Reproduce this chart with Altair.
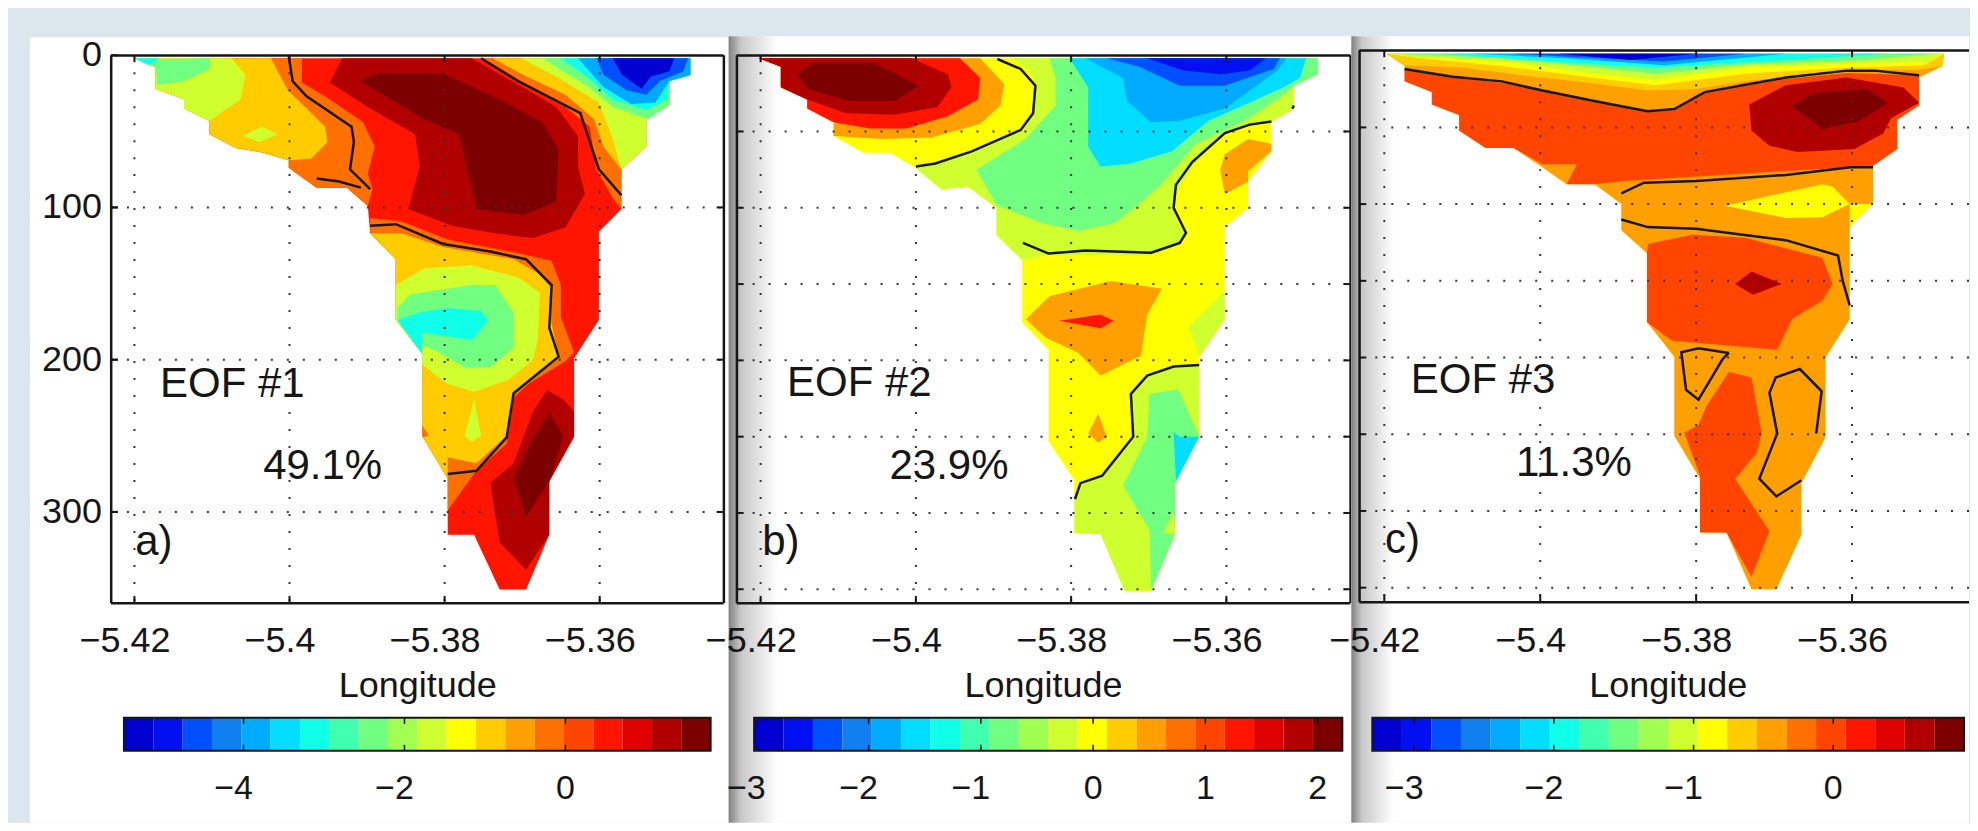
import altair as alt
import pandas as pd

# Discrete jet palette of the three colour bars (20 steps)
JET = ["#0000D0","#0010F0","#0050FF","#1080F0","#00AAFF","#00DDFF","#10FFE8","#40FFB0","#70FF80","#A0FF50",
       "#D0FF30","#FFFF00","#FFCC00","#FF9F00","#FF7000","#FF4500","#FF1500","#E00000","#B00000","#7D0000"]
FONT = "Liberation Sans"
X_TICKS = [-5.42, -5.40, -5.38, -5.36]
X_LABELS = ["\u22125.42", "\u22125.4", "\u22125.38", "\u22125.36"]
Y_LABELS = [0, 100, 200, 300]
Y_DOTS_A = [100, 200, 300]
Y_DOTS_BC = [50, 100, 150, 200, 250, 300, 350]

CB_A = [-5.486,-5.121,-4.757,-4.392,-4.028,-3.663,-3.299,-2.934,-2.570,-2.205,-1.841,-1.476,-1.111,-0.747,-0.382,-0.018,0.347,0.711,1.076,1.440,1.805]
CB_B = [-3.02,-2.758,-2.496,-2.234,-1.972,-1.71,-1.448,-1.186,-0.924,-0.662,-0.40,-0.138,0.124,0.386,0.648,0.91,1.172,1.434,1.696,1.958,2.22]
CB_C = [-3.30,-3.088,-2.876,-2.665,-2.453,-2.241,-2.029,-1.817,-1.606,-1.394,-1.182,-0.97,-0.759,-0.547,-0.335,-0.123,0.089,0.3,0.512,0.724,0.936]
CB_TICKS_A = [-4, -2, 0]
CB_TICKS_B = [-3, -2, -1, 0, 1, 2]
CB_TICKS_C = [-3, -2, -1, 0]

# ---------- panel a ----------
A_FULL = [(-5.42,2),(-5.4173,8),(-5.4173,22),(-5.4136,29),(-5.4136,35),(-5.4103,43),(-5.4103,52),(-5.4069,61),(-5.4033,64),(-5.4001,69),(-5.4001,74),(-5.3965,87),(-5.3926,87),(-5.3899,99),(-5.3896,117),(-5.3863,134),(-5.3863,174),(-5.3829,196),(-5.3829,250),(-5.3796,278),(-5.3796,315),(-5.3762,315),(-5.3729,351),(-5.3695,351),(-5.3665,315),(-5.3665,280),(-5.3633,251),(-5.3633,199),(-5.3601,174),(-5.3601,116),(-5.3572,101),(-5.3572,75),(-5.354,60),(-5.354,42),(-5.351,32.5),(-5.351,17),(-5.3483,13),(-5.3483,2)]
A_BACK = [(-5.3926,87),(-5.3965,87),(-5.4001,74),(-5.4001,69),(-5.4033,64),(-5.4069,61),(-5.4103,52),(-5.4103,43),(-5.4136,35),(-5.4136,29),(-5.4173,22),(-5.4173,8)]
A_RIGHT = [(-5.3483,2),(-5.3483,13),(-5.351,17),(-5.351,32.5),(-5.354,42),(-5.354,60),(-5.3572,75)]
A_O1 = [(-5.42,2),(-5.3984,2),(-5.3984,18),(-5.3948,29),(-5.3905,44),(-5.389,60),(-5.3899,78),(-5.3893,88),(-5.3899,99)] + A_BACK
A_G1 = [(-5.42,2),(-5.4024,2),(-5.4002,23),(-5.3954,47),(-5.3951,57),(-5.3972,68),(-5.4001,69)] + A_BACK[4:]
A_YG1 = [(-5.42,2),(-5.4075,2),(-5.4057,13),(-5.4063,29),(-5.4103,43)] + A_BACK[8:]
A_BLOB = [(-5.406,53),(-5.4036,47),(-5.4015,52),(-5.4039,57)]
A_GR1 = [(-5.4191,3),(-5.4103,2),(-5.4103,9),(-5.4136,17),(-5.417,19.5),(-5.4173,8)]
A_CY1 = [(-5.42,2),(-5.4167,2),(-5.4182,6.5)]
A_D1 = [(-5.3932,2),(-5.3765,2),(-5.3705,19.5),(-5.3656,34),(-5.3628,53),(-5.3628,73),(-5.3619,91),(-5.3644,113),(-5.3686,120),(-5.3735,117),(-5.379,112),(-5.3847,101),(-5.3832,73),(-5.3838,52),(-5.3899,34),(-5.3948,18)]
A_DD1 = [(-5.3908,17),(-5.3887,12),(-5.3802,12),(-5.3729,29),(-5.3674,44),(-5.3653,62),(-5.3656,96),(-5.3698,105),(-5.3759,101),(-5.3781,52),(-5.3826,42)]
A_O2 = [(-5.3753,2)] + A_RIGHT + [(-5.3572,101),(-5.3583,94),(-5.3604,75),(-5.3613,47),(-5.3644,34),(-5.3705,18)]
A_G2 = [(-5.3738,2)] + A_RIGHT + [(-5.3595,60),(-5.3607,42),(-5.3644,26),(-5.3698,13)]
A_YG2 = [(-5.3701,2)] + A_RIGHT + [(-5.3583,55),(-5.3601,31),(-5.3656,14)]
A_GR2 = [(-5.3674,2),(-5.3483,2),(-5.3483,13),(-5.351,17),(-5.351,32.5),(-5.3537,42),(-5.3583,34),(-5.3613,21)]
A_CY2 = [(-5.365,2),(-5.3483,2),(-5.3483,13),(-5.351,17),(-5.3513,29),(-5.354,36),(-5.3583,29),(-5.3619,13)]
A_LB2 = [(-5.3628,2),(-5.3483,2),(-5.3483,13),(-5.351,17),(-5.3528,31),(-5.3559,32),(-5.3595,21)]
A_BL2 = [(-5.3604,2),(-5.3486,2),(-5.3492,10.5),(-5.3522,17),(-5.354,26),(-5.3565,23),(-5.3595,13)]
A_DB2 = [(-5.3583,2),(-5.3504,2),(-5.351,10.5),(-5.3534,14),(-5.3546,22),(-5.3571,13)]
A_O3 = [(-5.3896,107),(-5.3856,109),(-5.3796,121),(-5.3705,130),(-5.3662,135),(-5.365,151),(-5.365,172),(-5.3633,195),(-5.3644,201),(-5.3692,216),(-5.3711,225),(-5.372,255),(-5.3759,273),(-5.3796,299),(-5.3796,278),(-5.3829,250),(-5.3829,196),(-5.3863,174),(-5.3863,134),(-5.3896,117)]
A_G3 = [(-5.3896,117),(-5.3856,117),(-5.3802,126),(-5.3711,134),(-5.368,143),(-5.3662,153),(-5.3665,169),(-5.3653,198),(-5.3711,221),(-5.372,250),(-5.3759,268),(-5.3796,264),(-5.3796,278),(-5.3829,250),(-5.3829,196),(-5.3863,174),(-5.3863,134)]
A_YG3 = [(-5.3863,151),(-5.3826,140),(-5.3765,138),(-5.3705,146),(-5.3677,156),(-5.368,187),(-5.3686,200),(-5.3717,213),(-5.3762,221),(-5.3796,216),(-5.3829,203),(-5.3829,196),(-5.3863,174)]
A_GR3 = [(-5.3861,166),(-5.3844,157),(-5.3765,151),(-5.3735,151),(-5.3711,169),(-5.3711,192),(-5.3741,205),(-5.3774,205),(-5.3808,195),(-5.3829,190),(-5.3829,196),(-5.3861,174)]
A_CY3 = [(-5.3861,174),(-5.3832,169),(-5.3796,166),(-5.3753,168),(-5.3744,174),(-5.3765,187),(-5.3829,182),(-5.3829,196)]
A_YG4 = [(-5.3762,226),(-5.3753,250),(-5.3765,254),(-5.3774,250)]
A_O4 = [(-5.3829,243),(-5.382,250),(-5.3829,251)]
A_D3 = [(-5.3668,220),(-5.3647,226),(-5.3633,234),(-5.3633,250),(-5.3665,280),(-5.3665,315),(-5.3695,338),(-5.3729,320),(-5.3741,281),(-5.3711,268),(-5.3686,234)]
A_DD3 = [(-5.3665,235),(-5.3647,250),(-5.3665,280),(-5.3695,303),(-5.3711,278),(-5.3686,252)]
A_POLYS = [(A_FULL,16),(A_O1,14),(A_G1,12),(A_YG1,10),(A_BLOB,10),(A_GR1,8),(A_CY1,6),(A_D1,18),(A_DD1,19),
           (A_O2,14),(A_G2,12),(A_YG2,10),(A_GR2,8),(A_CY2,6),(A_LB2,4),(A_BL2,2),(A_DB2,0),
           (A_O3,14),(A_G3,12),(A_YG3,10),(A_GR3,8),(A_CY3,6),(A_YG4,10),(A_O4,14),(A_D3,18),(A_DD3,19)]
A_L1 = [(-5.4001,1),(-5.3996,17),(-5.3978,27),(-5.392,47),(-5.3917,57),(-5.3922,75),(-5.3896,88)]
A_L2 = [(-5.3965,81),(-5.3936,83),(-5.3908,87)]
A_L3 = [(-5.3896,112),(-5.3863,111),(-5.3802,124),(-5.3741,129),(-5.3695,134),(-5.3662,151),(-5.3665,179),(-5.3653,198),(-5.3711,222),(-5.372,251),(-5.3759,273),(-5.3796,275)]
A_L4 = [(-5.3753,2),(-5.3705,17),(-5.3625,38),(-5.3601,75),(-5.3572,92)]
A_LINES = [A_L1, A_L2, A_L3, A_L4]
A_TEXT = [("EOF #1",-5.4167,216),("49.1%",-5.4034,270),("a)",-5.4199,320)]

# ---------- panel b ----------
B_FULL = [(-5.4203,2),(-5.4174,7.5),(-5.4174,21),(-5.414,29),(-5.414,35),(-5.4106,44),(-5.4106,53),(-5.4067,64),(-5.4033,64),(-5.4,74),(-5.3967,88),(-5.3933,86),(-5.3896,100),(-5.3896,118),(-5.3863,134),(-5.3863,175),(-5.3829,193),(-5.3829,253),(-5.3796,278),(-5.3796,313),(-5.3762,314),(-5.3731,351),(-5.3697,351),(-5.3666,314),(-5.3666,281),(-5.3635,250),(-5.3635,198),(-5.3602,173),(-5.3602,113),(-5.3572,100),(-5.3572,83),(-5.3542,63),(-5.3542,44),(-5.3513,35),(-5.3513,20),(-5.3482,12.5),(-5.3482,2)]
B_YG1 = [(-5.3875,2),(-5.3482,2),(-5.3482,12.5),(-5.3513,20),(-5.3513,35),(-5.3542,44),(-5.357,45),(-5.3605,53),(-5.3644,73),(-5.3668,93),(-5.3665,108),(-5.3652,118),(-5.3665,125),(-5.3697,131),(-5.3828,131),(-5.3863,134),(-5.3896,118),(-5.3896,100),(-5.3933,86),(-5.3967,88),(-5.4,74),(-5.3975,71),(-5.3928,63),(-5.3865,49),(-5.3849,38),(-5.3846,20),(-5.3854,10)]
B_GR1 = [(-5.3828,2),(-5.3482,2),(-5.3482,12.5),(-5.3513,20),(-5.3523,25),(-5.3576,43),(-5.3639,58),(-5.3681,83),(-5.3718,100),(-5.3744,110),(-5.3791,115),(-5.3838,110),(-5.3896,98),(-5.3922,75),(-5.3859,55),(-5.382,33),(-5.382,15)]
B_CY1 = [(-5.3802,2),(-5.3497,2),(-5.3505,15),(-5.3526,21),(-5.3565,30),(-5.3623,43),(-5.367,63),(-5.3723,71),(-5.3762,73),(-5.3778,60),(-5.3778,21)]
B_LB1 = [(-5.3781,2),(-5.3523,2),(-5.3534,10),(-5.3602,35),(-5.366,43),(-5.3697,44),(-5.3728,30),(-5.3733,15)]
B_BL1 = [(-5.3754,2),(-5.3531,2),(-5.3539,9),(-5.3602,20),(-5.366,20),(-5.3712,7.5)]
B_DB1 = [(-5.3702,2),(-5.3549,2),(-5.357,10),(-5.3607,12.5),(-5.3655,10)]
B_GR2 = [(-5.3497,2),(-5.3482,2),(-5.3482,12.5),(-5.3505,15)]
B_O1 = [(-5.4203,2),(-5.3917,2),(-5.3886,19),(-5.3891,33),(-5.3917,45),(-5.398,54),(-5.4043,55),(-5.4106,53),(-5.4106,44),(-5.414,35),(-5.414,29),(-5.4174,21),(-5.4174,7.5)]
B_R1 = [(-5.4203,2),(-5.3943,2),(-5.3917,15),(-5.392,29),(-5.3959,40),(-5.4012,48),(-5.4059,48),(-5.4106,44),(-5.414,35),(-5.414,29),(-5.4174,21),(-5.4174,7.5)]
B_D1 = [(-5.4203,2),(-5.4006,2),(-5.3959,12.5),(-5.3954,21),(-5.3972,34),(-5.4027,39),(-5.409,38),(-5.414,29),(-5.4174,21),(-5.4174,7.5)]
B_DD1 = [(-5.4153,12.5),(-5.4132,5),(-5.4054,5),(-5.3996,20),(-5.4027,30),(-5.4085,30),(-5.4138,22.5)]
B_O2 = [(-5.3858,173),(-5.3828,158),(-5.3749,148),(-5.3683,153),(-5.3702,170),(-5.371,197),(-5.3762,210),(-5.3791,195),(-5.3833,185)]
B_R2 = [(-5.3815,174),(-5.3762,170),(-5.3745,174),(-5.3762,179)]
B_O3 = [(-5.3765,235),(-5.3754,250),(-5.3765,254),(-5.3778,248)]
B_O4 = [(-5.3572,55),(-5.3542,58),(-5.3542,63),(-5.3572,76),(-5.3572,83),(-5.3602,91),(-5.3608,75),(-5.3602,65)]
B_YG2 = [(-5.3602,154),(-5.3602,173),(-5.3635,198),(-5.3649,178)]
B_YG3 = [(-5.3635,203),(-5.3668,204),(-5.3702,210),(-5.3723,222),(-5.372,250),(-5.376,275.5),(-5.3788,280.5),(-5.3795,291),(-5.3796,313),(-5.3762,314),(-5.3731,351),(-5.3697,351),(-5.3666,314),(-5.3666,281),(-5.3635,250)]
B_GR3 = [(-5.3699,222),(-5.3662,219),(-5.3635,250),(-5.3666,281),(-5.3666,314),(-5.3697,351),(-5.3699,311),(-5.3733,282),(-5.3702,250)]
B_YG4 = [(-5.3681,313),(-5.3668,299),(-5.3666,314)]
B_CY2 = [(-5.3668,247),(-5.366,250),(-5.3635,250),(-5.3665,279)]
B_POLYS = [(B_FULL,11),(B_YG1,10),(B_GR1,8),(B_CY1,5),(B_GR2,8),(B_LB1,4),(B_BL1,2),(B_DB1,1),
           (B_O1,13),(B_R1,16),(B_D1,18),(B_DD1,19),(B_O2,13),(B_R2,16),(B_O3,13),(B_O4,13),
           (B_YG2,10),(B_YG3,10),(B_GR3,8),(B_YG4,10),(B_CY2,5)]
B_L1 = [(-5.3895,2.5),(-5.3865,9),(-5.3846,20),(-5.3849,38),(-5.3865,49),(-5.3928,63),(-5.3975,71),(-5.4,73)]
B_L2 = [(-5.3862,123),(-5.3829,130),(-5.3781,128),(-5.3697,129.5),(-5.366,123),(-5.3652,116.5),(-5.3668,100),(-5.3665,85),(-5.3644,70),(-5.3602,51),(-5.357,45.5),(-5.3542,43.5)]
B_L3 = [(-5.3635,203),(-5.3668,204),(-5.3702,210),(-5.3723,222),(-5.372,250),(-5.376,275.5),(-5.3788,280.5),(-5.3795,291)]
B_L4 = [(-5.3515,35),(-5.3513,33)]
B_LINES = [B_L1, B_L2, B_L3, B_L4]
B_TEXT = [("EOF #2",-5.4166,215),("23.9%",-5.4034,269),("b)",-5.4198,319)]

# ---------- panel c ----------
C_FULL = [(-5.4197,2),(-5.3482,2),(-5.3484,10),(-5.3514,17.5),(-5.3514,35.5),(-5.3542,45),(-5.3542,64),(-5.3573,75),(-5.3573,100),(-5.3603,115),(-5.3603,175),(-5.3634,200),(-5.3634,252),(-5.3665,282),(-5.3665,315.5),(-5.3697,351),(-5.3729,351),(-5.3761,314),(-5.3795,314),(-5.3795,279),(-5.3828,251),(-5.3828,199.5),(-5.3863,177),(-5.3863,132),(-5.3896,117),(-5.3896,100),(-5.393,87),(-5.3966,87),(-5.4,75),(-5.4034,63.5),(-5.407,63.5),(-5.4104,52),(-5.4104,42),(-5.4139,35),(-5.4139,27),(-5.4174,20),(-5.4174,10)]
C_G1 = [(-5.4197,2),(-5.3482,2),(-5.3484,10),(-5.3514,12.5),(-5.3607,12.5),(-5.3737,20),(-5.38,25),(-5.3862,26),(-5.3935,21),(-5.4023,16),(-5.4101,11),(-5.4174,9.5)]
C_Y1 = [(-5.4197,2),(-5.3482,2),(-5.3508,9.5),(-5.3607,11),(-5.3737,15),(-5.3852,22.5),(-5.3935,17.5),(-5.4049,10),(-5.4153,5)]
C_YG1 = [(-5.4197,2),(-5.3482,2),(-5.3503,7),(-5.3607,8.7),(-5.3737,11),(-5.3852,19),(-5.3945,14),(-5.4049,7),(-5.4164,4)]
C_GR1 = [(-5.4192,2),(-5.3493,2),(-5.3581,6),(-5.3737,9),(-5.3852,15),(-5.3945,10),(-5.4049,5)]
C_CY1 = [(-5.4127,2),(-5.3555,2),(-5.3685,6),(-5.3852,11),(-5.3971,7.5)]
C_LB1 = [(-5.4086,2),(-5.3685,2),(-5.3841,9.5),(-5.3966,5)]
C_BL1 = [(-5.4034,2),(-5.3737,2),(-5.3841,7),(-5.3945,4.5)]
C_DB1 = [(-5.3976,2),(-5.38,2),(-5.3883,6)]
C_RO1 = [(-5.4174,12.5),(-5.4101,18),(-5.4023,22.5),(-5.3919,33.5),(-5.3862,40),(-5.3828,39),(-5.38,29),(-5.3737,21),(-5.3607,14.5),(-5.3514,16),(-5.3514,35.5),(-5.3542,45),(-5.3542,64),(-5.3573,75),(-5.3737,80),(-5.3893,85),(-5.393,87),(-5.3966,87),(-5.3953,74),(-5.3997,74),(-5.4034,63.5),(-5.407,63.5),(-5.4104,52),(-5.4104,42),(-5.4139,35),(-5.4139,27),(-5.4174,20)]
C_D1 = [(-5.3732,35),(-5.3685,22.5),(-5.3607,17.5),(-5.3534,24),(-5.3514,34),(-5.355,44),(-5.356,54),(-5.3597,64),(-5.367,66),(-5.3706,62),(-5.3729,52)]
C_DD1 = [(-5.3677,36),(-5.3649,27.5),(-5.3581,25),(-5.3553,34),(-5.3592,46),(-5.3638,51)]
C_Y2 = [(-5.3763,101),(-5.3638,87),(-5.3625,88.5),(-5.3603,100),(-5.3638,108.5),(-5.3685,109)]
C_Y3 = [(-5.3603,100),(-5.3573,100),(-5.3603,115)]
C_RO2 = [(-5.3863,132),(-5.3862,126),(-5.3805,120),(-5.3737,122),(-5.3638,135),(-5.3625,152),(-5.3638,163),(-5.3677,175),(-5.3696,195),(-5.3831,189),(-5.3863,177)]
C_D2 = [(-5.375,152),(-5.3729,144),(-5.369,152),(-5.3727,159)]
C_RO3 = [(-5.3758,209.5),(-5.3729,213),(-5.3716,249),(-5.3722,262),(-5.375,279),(-5.3706,313),(-5.3729,343),(-5.3761,314),(-5.3795,314),(-5.3795,277),(-5.3815,249),(-5.3797,244),(-5.3787,232)]
C_POLYS = [(C_FULL,13),(C_G1,12),(C_Y1,11),(C_YG1,10),(C_GR1,8),(C_CY1,6),(C_LB1,4),(C_BL1,2),(C_DB1,0),
           (C_RO1,15),(C_D1,18),(C_DD1,19),(C_Y2,11),(C_Y3,11),(C_RO2,15),(C_D2,18),(C_RO3,15)]
C_L1 = [(-5.4174,12),(-5.4112,17),(-5.4049,20),(-5.3997,26),(-5.3924,33.5),(-5.3862,39.5),(-5.3828,38),(-5.3789,27),(-5.3685,17.5),(-5.3607,13),(-5.3571,13),(-5.3514,16)]
C_L2 = [(-5.3896,93),(-5.3867,86),(-5.38,85),(-5.3685,81),(-5.3602,76),(-5.3573,76)]
C_L3 = [(-5.3896,110),(-5.3862,115),(-5.38,116),(-5.3685,123.5),(-5.3618,133.5),(-5.3612,150),(-5.3603,166)]
C_L4 = [(-5.3758,197),(-5.3797,194),(-5.3819,196.5),(-5.3813,221),(-5.3797,227.5),(-5.3766,201),(-5.3758,197)]
C_L5 = [(-5.3646,249.5),(-5.3639,222),(-5.3667,207.5),(-5.3698,213),(-5.3706,223),(-5.3696,249.5),(-5.3719,279),(-5.3697,290.5),(-5.3665,280)]
C_LINES = [C_L1, C_L2, C_L3, C_L4, C_L5]
C_TEXT = [("EOF #3",-5.4166,214.5),("11.3%",-5.4031,269),("c)",-5.4199,319)]

H = 548
BG = "#dbe7ed"
INK = "#161616"
ONE = pd.DataFrame({"v": [0]})


def box(x0, x1, y0, y1, **kw):
    return alt.Chart(ONE).mark_rect(**kw).encode(
        x=alt.value(x0), x2=alt.value(x1), y=alt.value(y0), y2=alt.value(y1))


def panel(polys, lines, texts, width, xrange, yrange, frame, y_dots, show_y, white, shade, closed, title_x):
    xs = alt.Scale(domain=[-5.42, -5.36], range=xrange, nice=False, zero=False)
    ys = alt.Scale(domain=[0, 300], range=yrange, nice=False, zero=False)
    fx0, fx1, fy0, fy1 = frame
    layers = []
    if show_y:
        layers.append(box(-103, 0, -47, 768, fill=BG))
    layers.append(box(white[0], white[1], white[2], white[3], fill="white"))
    if shade:
        layers.append(box(white[0], white[0] + shade, white[2], white[3], fill=alt.Gradient(
            gradient="linear", x1=0, x2=1, y1=0, y2=0,
            stops=[alt.GradientStop(color="#808080", offset=0),
                   alt.GradientStop(color="#c8c8c8", offset=0.25),
                   alt.GradientStop(color="#ffffff", offset=1)])))
    no_x, no_y = alt.X("lon:Q", scale=xs, axis=None), alt.Y("dep:Q", scale=ys, axis=None)
    for pts, lev in polys:
        df = pd.DataFrame({"lon": [p[0] for p in pts], "dep": [p[1] for p in pts], "i": range(len(pts))})
        layers.append(alt.Chart(df).mark_line(fill=JET[lev], strokeWidth=0).encode(x=no_x, y=no_y, order="i:Q"))
    for pts in lines:
        df = pd.DataFrame({"lon": [p[0] for p in pts], "dep": [p[1] for p in pts], "i": range(len(pts))})
        layers.append(alt.Chart(df).mark_line(color=INK, strokeWidth=2.5).encode(x=no_x, y=no_y, order="i:Q"))
    tx = pd.DataFrame({"lon": X_TICKS, "lab": X_LABELS})
    ty = pd.DataFrame({"dep": y_dots})
    # dotted grid
    layers.append(alt.Chart(tx).mark_rule(color="#333333", strokeWidth=2, strokeDash=[2, 15]).encode(
        x=no_x, y=alt.value(fy0), y2=alt.value(fy1)))
    layers.append(alt.Chart(ty).mark_rule(color="#333333", strokeWidth=2, strokeDash=[2, 14]).encode(
        y=no_y, x=alt.value(fx0), x2=alt.value(fx1)))
    # inward ticks
    for a, b in [(fy0, fy0 + 7), (fy1 - 7, fy1)]:
        layers.append(alt.Chart(tx).mark_rule(color=INK, strokeWidth=2).encode(
            x=no_x, y=alt.value(a), y2=alt.value(b)))
    for a, b in ([(fx0, fx0 + 7), (fx1 - 7, fx1)] if closed else [(fx0, fx0 + 7)]):
        layers.append(alt.Chart(ty).mark_rule(color=INK, strokeWidth=2).encode(
            y=no_y, x=alt.value(a), x2=alt.value(b)))
    # frame
    layers.append(box(fx0, fx1, fy0 - 1, fy0 + 1.5, fill=INK))
    layers.append(box(fx0, fx1, fy1 - 1, fy1 + 1.5, fill=INK))
    layers.append(box(fx0 - 1, fx0 + 1.5, fy0, fy1, fill=INK))
    if closed:
        layers.append(box(fx1 - 1, fx1 + 1.5, fy0, fy1, fill=INK))
    # texts
    tdf = pd.DataFrame({"t": [t[0] for t in texts], "lon": [t[1] for t in texts], "dep": [t[2] for t in texts]})
    layers.append(alt.Chart(tdf).mark_text(align="left", baseline="middle", font=FONT, fontSize=42, color=INK).encode(
        x=no_x, y=no_y, text="t:N"))
    layers.append(alt.Chart(tx).mark_text(align="center", baseline="alphabetic", font=FONT, fontSize=36, color=INK, dx=-9.5).encode(
        x=no_x, y=alt.value(597), text="lab:N"))
    layers.append(alt.Chart(ONE.assign(t="Longitude")).mark_text(align="center", baseline="alphabetic", font=FONT, fontSize=36, color=INK).encode(
        x=alt.value(title_x), y=alt.value(642), text="t:N"))
    if show_y:
        yl = pd.DataFrame({"dep": Y_LABELS, "lab": [str(v) for v in Y_LABELS]})
        layers.append(alt.Chart(yl).mark_rule(color=INK, strokeWidth=2).encode(
            y=no_y, x=alt.value(fx0), x2=alt.value(fx0 + 7)))
        layers.append(alt.Chart(yl).mark_text(align="right", baseline="middle", font=FONT, fontSize=36, color=INK).encode(
            y=no_y, x=alt.value(-9), text="lab:N"))
    return alt.layer(*layers).properties(width=width, height=H)


def colorbar(edges, ticks, width, xrange):
    xs = alt.Scale(domain=[edges[0], edges[-1]], range=xrange, nice=False, zero=False)
    no_x = alt.X("v:Q", scale=xs, axis=None)
    df = pd.DataFrame({"v": edges[:-1], "b": edges[1:], "k": list(range(20))})
    cells = alt.Chart(df).mark_rect().encode(
        x=no_x, x2="b:Q",
        color=alt.Color("k:O", scale=alt.Scale(domain=list(range(20)), range=JET), legend=None))
    td = pd.DataFrame({"v": ticks, "lab": [str(t).replace("-", "\u2212") for t in ticks]})
    out = [cells]
    for a, b in [(0, 6), (27, 33)]:
        out.append(alt.Chart(td).mark_rule(color=INK, strokeWidth=1.5).encode(
            x=no_x, y=alt.value(a), y2=alt.value(b)))
    out.append(box(xrange[0], xrange[1], 0, 33, filled=False, stroke=INK, strokeWidth=2))
    # the reference centres the digit on the tick, so negative labels sit further left
    for part, shift in [(td[td["v"] < 0], -10), (td[td["v"] >= 0], 0)]:
        out.append(alt.Chart(part).mark_text(align="center", baseline="alphabetic", font=FONT, fontSize=34, color=INK, dx=shift).encode(
            x=no_x, y=alt.value(81), text="lab:N"))
    return alt.layer(*out).properties(width=width, height=33)


pa = panel(A_POLYS, A_LINES, A_TEXT, 620, [23.5, 489], [0, 457], (0, 613, 0, H), Y_DOTS_A, True, (-81, 618, -18, 768), 0, True, 307)
pb = panel(B_POLYS, B_LINES, B_TEXT, 624, [30, 496], [0, 458], (6, 620, 0, H), Y_DOTS_BC, False, (-2, 621, -19, 768), 49, True, 313)
pc = panel(C_POLYS, C_LINES, C_TEXT, 615, [30, 498], [-4.5, 456], (5, 615, -5, H - 1), Y_DOTS_BC, False, (-3, 615, -19, 768), 42, False, 314)
ca = colorbar(CB_A, CB_TICKS_A, 620, [13, 600])
cb = colorbar(CB_B, CB_TICKS_B, 624, [23.5, 612])
cc = colorbar(CB_C, CB_TICKS_C, 615, [18, 610])

chart = alt.concat(pa, pb, pc, ca, cb, cc, columns=3, spacing={"row": 115, "column": 0}).properties(
    bounds="flush", align="each", background=BG, padding=0
).configure_view(stroke=None)
chart.save("out.html", embed_options={"renderer": "svg", "actions": False})
